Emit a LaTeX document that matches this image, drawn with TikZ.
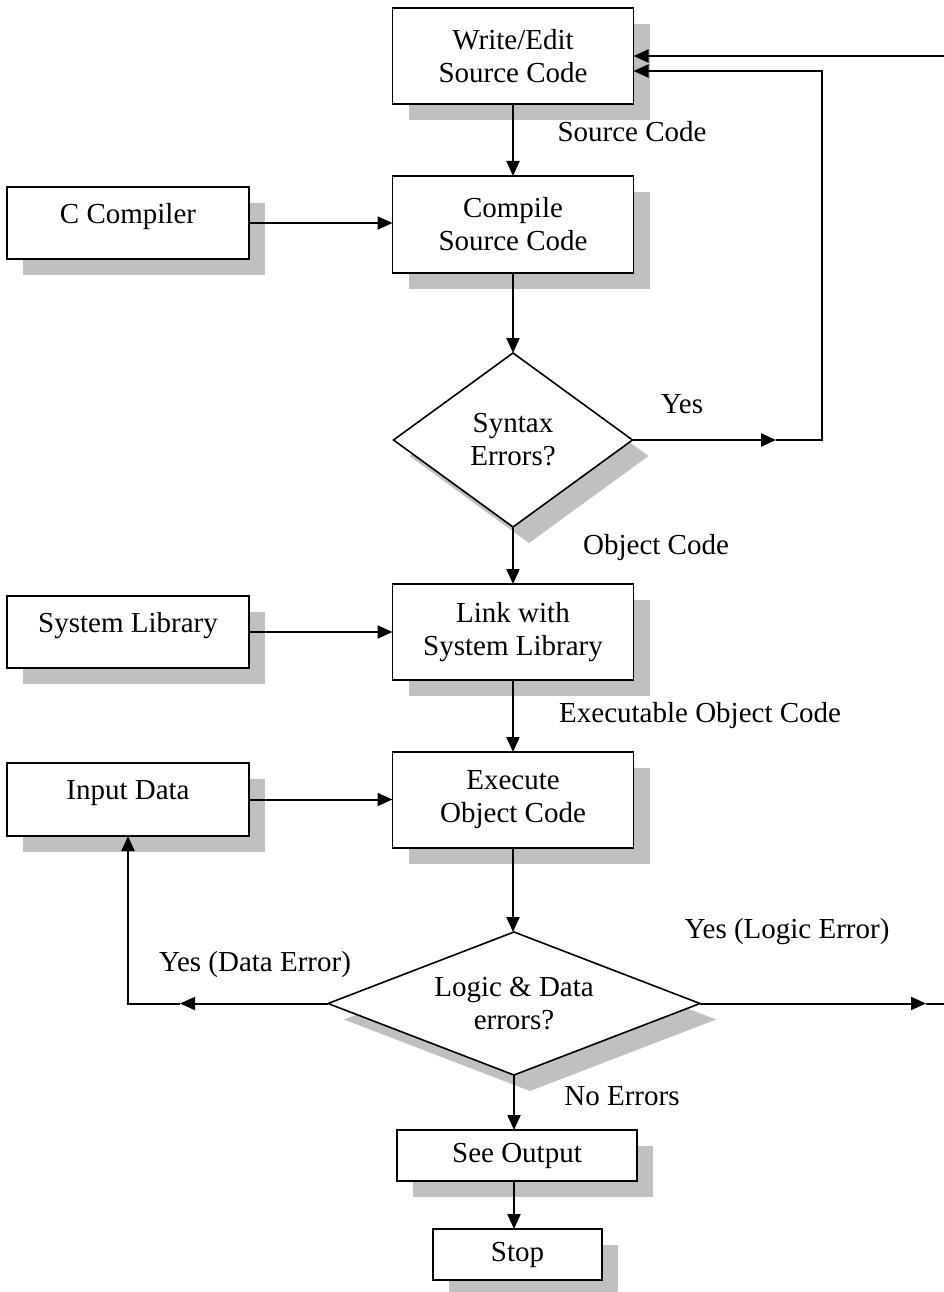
\documentclass[tikz,border=0pt]{standalone}
\usepackage{fontspec}
\setmainfont{Liberation Serif}
\usetikzlibrary{arrows.meta,shapes.geometric,shadows,calc}
\definecolor{shgray}{HTML}{C0C0C0}
\newcommand{\figfont}{\fontsize{29}{33}\selectfont}
\tikzset{
  myshadow/.style={drop shadow={shadow xshift=16pt,shadow yshift=-16pt,fill=shgray,opacity=1}},
  box/.style={rectangle,draw,line width=1.6pt,fill=white,inner sep=0pt,outer sep=0pt,
    align=center,font=\figfont,myshadow},
  sidebox/.style={box,minimum width=242pt,minimum height=72pt,text depth=20pt},
  mainbox/.style={box,minimum width=241pt,minimum height=96pt},
  dec/.style={diamond,draw,line width=1.6pt,fill=white,inner sep=0pt,outer sep=0pt,
    align=center,font=\figfont,myshadow},
  arr/.style={line width=2pt,-{Triangle[length=15pt,width=13pt]}},
  ln/.style={line width=2pt},
  lbl/.style={font=\figfont,inner sep=0pt}
}
\begin{document}
\begin{tikzpicture}[x=1pt,y=-1pt]
\useasboundingbox (0,0) rectangle (944,1292);

% main column
\node[mainbox] (we) at (513,56) {Write/Edit\\Source Code};
\node[mainbox,minimum height=97pt] (cs) at (513,224.5) {Compile\\Source Code};
\node[dec,minimum width=239pt,minimum height=174pt,aspect=1.4] (syn) at (513,440) {Syntax\\Errors?};
\node[mainbox] (link) at (513,632) {Link with\\System Library};
\node[mainbox] (exe) at (513,800) {Execute\\Object Code};
\node[dec,minimum width=372pt,minimum height=143pt,aspect=2.6] (logic) at (514,1003.5) {Logic \& Data\\errors?};
\node[box,minimum width=240pt,minimum height=51pt] (see) at (517,1155.5) {See Output};
\node[box,minimum width=169pt,minimum height=51pt] (stop) at (517.5,1254.5) {Stop};

% side boxes
\node[sidebox] (cc) at (128,223) {C Compiler};
\node[sidebox] (sl) at (128,632) {System Library};
\node[sidebox,minimum height=73pt] (id) at (128,799.5) {Input Data};

% helper coordinates
\coordinate (redge) at (944,56);
\coordinate (loopc) at (822,440);
\coordinate (yesmid) at (776,440);
\coordinate (datamid) at (180,1003.5);
\coordinate (logmid) at (926,1003.5);
\coordinate (redge2) at (944,1003.5);

% connectors
\draw[arr] (we.south) -- (cs.north);
\draw[arr] (cc.east) -- (cc.east -| cs.west);
\draw[arr] (cs.south) -- (syn.north);
\draw[arr] (syn.east) -- (yesmid);
\draw[arr] (yesmid) -- (loopc) |- ([yshift=-15pt]we.east);
\draw[arr] (redge) -- (we.east);
\draw[arr] (syn.south) -- (link.north);
\draw[arr] (sl.east) -- (sl.east -| link.west);
\draw[arr] (link.south) -- (exe.north);
\draw[arr] (id.east) -- (id.east -| exe.west);
\draw[arr] (exe.south) -- (exe.south |- logic.north);
\draw[arr] (logic.west) -- (datamid);
\draw[arr] (datamid) -| (id.south);
\draw[arr] (logic.east) -- (logmid);
\draw[ln] (logmid) -- (redge2);
\draw[arr] (logic.south) -- (logic.south |- see.north);
\draw[arr] (see.south -| logic.south) -- (stop.north -| logic.south);

% labels
\node[lbl] (l1) at (632,132) {Source Code};
\node[lbl] (l2) at (682,404) {Yes};
\node[lbl] (l3) at (656,548) {Object Code};
\node[lbl,anchor=west] (l4) at (559,716) {Executable Object Code};
\node[lbl] (l5) at (255,965) {Yes (Data Error)};
\node[lbl] (l6) at (787,932) {Yes (Logic Error)};
\node[lbl] (l7) at (622,1096) {No Errors};
\end{tikzpicture}
\end{document}
